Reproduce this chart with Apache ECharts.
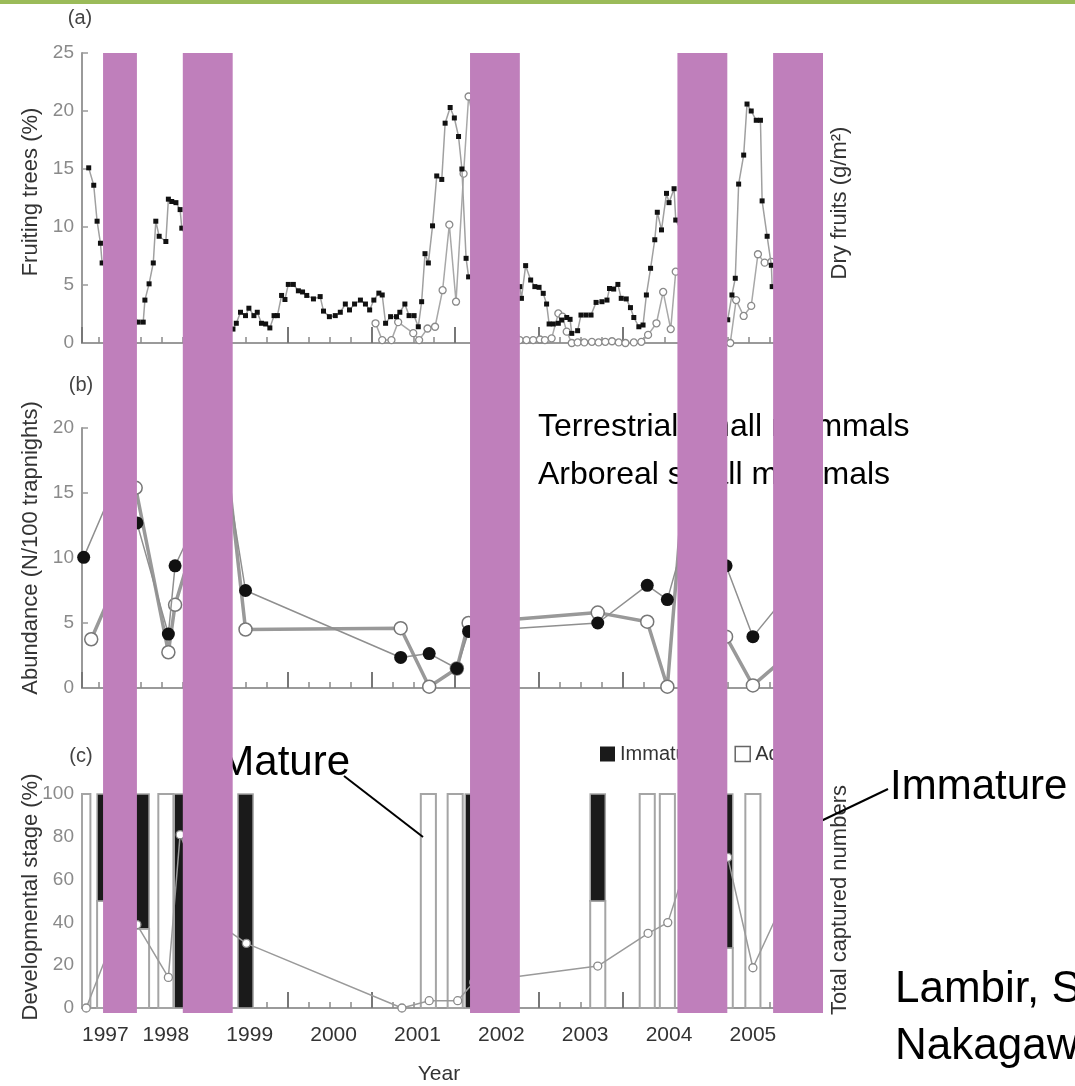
<!DOCTYPE html>
<html>
<head>
<meta charset="utf-8">
<script src="https://cdn.jsdelivr.net/npm/echarts@6/dist/echarts.min.js"></script>
<style>
html,body{margin:0;padding:0;background:#fff;}
#chart{width:1075px;height:1086px;}
</style>
</head>
<body>
<div id="chart"></div>
<script>
// ---------- DATA ----------
const yearLabels = ['1997','1998','1999','2000','2001','2002','2003','2004','2005'];

// (a) Fruiting trees (%) – filled squares
const fruitYears = [1997.08,1997.14,1997.18,1997.22,1997.24,1997.67,1997.73,1997.75,1997.80,1997.85,1997.88,1997.92,1998.00,1998.03,1998.07,1998.12,1998.17,1998.19,
  1998.80,1998.84,1998.89,1998.95,1998.99,1999.05,1999.09,1999.14,1999.19,1999.24,1999.29,1999.33,1999.38,1999.42,1999.46,1999.52,1999.58,1999.63,1999.68,1999.76,1999.84,1999.88,1999.95,
  2000.02,2000.08,2000.14,2000.19,2000.25,2000.32,2000.38,2000.43,2000.48,2000.54,2000.58,2000.62,2000.68,2000.75,2000.79,2000.85,2000.90,2000.96,
  2001.01,2001.05,2001.09,2001.13,2001.18,2001.23,2001.29,2001.33,2001.39,2001.44,2001.49,2001.53,2001.58,2001.61,
  2002.22,2002.24,2002.29,2002.35,2002.40,2002.45,2002.50,2002.54,2002.57,2002.62,2002.68,2002.72,2002.78,2002.82,2002.84,2002.91,2002.95,
  2003.01,2003.07,2003.13,2003.20,2003.26,2003.29,2003.34,2003.39,2003.43,2003.49,2003.54,2003.58,2003.64,2003.69,2003.73,2003.78,2003.83,2003.86,2003.91,2003.97,
  2004.00,2004.06,2004.08,2004.70,2004.75,2004.79,2004.83,2004.89,2004.93,2004.98,2005.04,2005.09,2005.11,2005.17,2005.22,2005.23];
const fruitPct = [15.1,13.6,10.5,8.6,6.9,1.8,1.8,3.7,5.1,6.9,10.5,9.2,8.75,12.4,12.2,12.1,11.5,9.9,
  1.2,1.7,2.65,2.36,3.0,2.36,2.65,1.7,1.64,1.3,2.36,2.36,4.1,3.75,5.05,5.05,4.5,4.4,4.1,3.8,4.0,2.75,2.27,
  2.36,2.65,3.36,2.85,3.36,3.7,3.36,2.85,3.7,4.3,4.14,1.7,2.27,2.27,2.65,3.36,2.36,2.36,
  1.4,3.56,7.7,6.9,10.1,14.4,14.1,18.95,20.3,19.4,17.8,15.0,7.3,5.7,
  4.86,3.85,6.67,5.43,4.86,4.8,4.28,3.36,1.64,1.64,1.7,1.98,2.2,2.04,0.83,1.06,2.41,
  2.41,2.41,3.5,3.56,3.7,4.7,4.65,5.05,3.85,3.8,3.05,2.2,1.4,1.55,4.14,6.44,8.9,11.27,9.75,12.9,
  12.1,13.3,10.6,2.0,4.14,5.58,13.7,16.2,20.6,20.0,19.2,19.2,12.25,9.2,6.7,4.86];

// (a) Dry fruits – open circles (right axis, same visual scale)
const dryYears = [2000.50,2000.58,2000.69,2000.77,2000.95,2001.02,2001.12,2001.21,2001.30,2001.38,2001.46,2001.55,2001.61,
  2002.22,2002.30,2002.38,2002.46,2002.52,2002.60,2002.68,2002.73,2002.78,2002.84,2002.91,2002.99,2003.08,2003.16,2003.24,2003.32,2003.40,2003.48,2003.58,2003.67,2003.75,2003.85,2003.93,
  2004.02,2004.08,2004.73,2004.80,2004.89,2004.98,2005.06,2005.14,2005.22];
const dryFruits = [1.7,0.25,0.25,1.8,0.85,0.25,1.25,1.4,4.55,10.2,3.56,14.6,21.25,
  0.25,0.25,0.25,0.3,0.25,0.4,2.55,2.27,0.98,0.0,0.05,0.05,0.1,0.05,0.1,0.15,0.05,0.0,0.05,0.1,0.7,1.7,4.4,
  1.2,6.15,0.0,3.7,2.33,3.2,7.65,6.93,7.0];

// (b) Abundance (N/100 trapnights)
const terrYears = [1997.02,1997.35,1997.655,1998.03,1998.11,1998.70,1998.95,2000.80,2001.14,2001.47,2001.61,2003.15,2003.74,2003.98,2004.36,2004.68,2005.00,2005.45];
const terrAbund = [10.05,15.0,12.7,4.15,9.4,17.5,7.5,2.35,2.65,1.5,4.35,5.0,7.9,6.8,15.5,9.4,3.95,7.5];
const arbYears  = [1997.11,1997.35,1997.64,1998.03,1998.11,1998.70,1998.95,2000.80,2001.14,2001.47,2001.61,2003.15,2003.74,2003.98,2004.20,2004.68,2005.00,2005.45];
const arbAbund  = [3.75,7.3,15.4,2.75,6.4,19.0,4.5,4.6,0.1,1.5,5.0,5.8,5.1,0.1,17.5,3.95,0.2,2.7];

// (c) Developmental stage (%) and total captured numbers
const devYears    = [1997.01,1997.27,1997.71,1998.00,1998.19,1998.95,2001.13,2001.45,2001.66,2003.15,2003.74,2003.98,2004.67,2005.00];
const immaturePct = [0,50,63,0,100,100,0,0,100,50,0,0,72,0];
const adultPct    = [100,50,37,100,0,0,100,100,0,50,100,100,28,100];
const totYears    = [1997.05,1997.33,1997.655,1998.03,1998.17,1998.60,1998.96,2000.815,2001.14,2001.48,2001.67,2003.15,2003.75,2003.985,2004.30,2004.70,2005.00,2005.45,2005.69];
const totCaptured = [0,28,39,14.3,81,40,30.2,0,3.4,3.4,12,19.6,34.9,39.9,78,70.4,18.8,57,0];

// highlighted periods (overlay bands, in years)
const purpleSpans = [[1997.251,1997.643],[1998.202,1998.785],[2001.627,2002.209],[2004.100,2004.683],[2005.241,2005.824]];

// ---------- CHART ----------
const FONT = 'Liberation Sans, Arial, Helvetica, sans-serif';
const pairs = (xs, ys) => xs.map((x, i) => [x, ys[i]]);
const XMIN = 1997, XMAX = 2005.824;

function mainX(g, labels) {
  return {
    type: 'value', gridIndex: g, position: 'bottom', min: XMIN, max: XMAX, interval: 1,
    axisLine: {show: true, onZero: false, lineStyle: {color: '#9a9a9a', width: 2}},
    axisTick: {show: false}, splitLine: {show: false},
    axisLabel: labels ? {
      show: true, color: '#333', fontSize: 21, fontFamily: FONT, margin: 17,
      alignMinLabel: 'left',
      formatter: function (v) {
        if (Math.abs(v - Math.round(v)) > 1e-6) return '';
        return yearLabels[Math.round(v) - 1997] || '';
      }
    } : {show: false}
  };
}
function quarterX(g) {
  return {
    type: 'value', gridIndex: g, position: 'bottom', min: XMIN + 0.05, max: XMAX + 0.05, minInterval: 0.25, maxInterval: 0.25,
    axisLine: {show: false, onZero: false}, axisLabel: {show: false}, splitLine: {show: false},
    axisTick: {show: true, inside: true, length: 6, lineStyle: {color: '#8a8a8a', width: 1.5}}
  };
}
function majorX(g) {
  return {
    type: 'value', gridIndex: g, position: 'bottom', min: XMIN - 0.45, max: XMAX - 0.45, minInterval: 1, maxInterval: 1,
    axisLine: {show: false, onZero: false}, axisLabel: {show: false}, splitLine: {show: false},
    axisTick: {show: true, inside: true, length: 16, lineStyle: {color: '#777', width: 2}}
  };
}
function leftY(g, max, interval) {
  return {
    type: 'value', gridIndex: g, min: 0, max: max, interval: interval, position: 'left',
    axisLine: {show: true, onZero: false, lineStyle: {color: '#9a9a9a', width: 2}},
    axisTick: {show: true, inside: true, length: 6, lineStyle: {color: '#9a9a9a', width: 1.5}},
    axisLabel: {color: '#8a8a8a', fontSize: 19, fontFamily: FONT, margin: 8},
    splitLine: {show: false}
  };
}
function rightY(g, max) {
  return {
    type: 'value', gridIndex: g, min: 0, max: max, position: 'right',
    axisLine: {show: false, onZero: false}, axisTick: {show: false}, axisLabel: {show: false}, splitLine: {show: false}
  };
}

// stacked developmental-stage columns drawn through the axes, clipped to the grid
function stageRenderer(fill, stroke, lw) {
  return function (params, api) {
    const t = api.value(0), lo = api.value(1), hi = api.value(2);
    if (!(hi > lo)) return null;
    const p0 = api.coord([t, lo]);
    const p1 = api.coord([t, hi]);
    const w = api.size([0.18, 0])[0];
    const cs = params.coordSys;
    const r = echarts.graphic.clipRectByRect(
      {x: p0[0] - w / 2, y: p1[1], width: w, height: p0[1] - p1[1]},
      {x: cs.x, y: cs.y, width: cs.width, height: cs.height});
    if (!r) return null;
    return {type: 'rect', shape: r, style: {fill: fill, stroke: stroke, lineWidth: lw}};
  };
}
const adultData = devYears.map((t, i) => [t, 0, adultPct[i]]);
const immatureData = devYears.map((t, i) => [t, adultPct[i], adultPct[i] + immaturePct[i]]);

const chart = echarts.init(document.getElementById('chart'), null, {renderer: 'canvas'});
const option = {
  animation: false,
  backgroundColor: '#ffffff',
  grid: [
    {left: 82, top: 53, width: 740, height: 290},
    {left: 82, top: 428, width: 740, height: 260},
    {left: 82, top: 794, width: 740, height: 214}
  ],
  xAxis: [mainX(0, false), quarterX(0), majorX(0),
          mainX(1, false), quarterX(1), majorX(1),
          mainX(2, true), quarterX(2), majorX(2)],
  yAxis: [leftY(0, 25, 5), rightY(0, 25), leftY(1, 20, 5), leftY(2, 100, 20), rightY(2, 100)],
  legend: {
    data: [
      {name: 'Immature', itemStyle: {color: '#1a1a1a', borderWidth: 0}},
      {name: 'Adult', itemStyle: {color: '#ffffff', borderColor: '#666', borderWidth: 1.5}}
    ],
    left: 600, top: 744, padding: 0,
    itemWidth: 15, itemHeight: 15, itemGap: 30, icon: 'rect',
    textStyle: {fontSize: 20, color: '#333', fontFamily: FONT}
  },
  series: [
    {name: 'Fruiting trees', type: 'line', xAxisIndex: 0, yAxisIndex: 0,
     data: pairs(fruitYears, fruitPct), symbol: 'rect', symbolSize: 5,
     itemStyle: {color: '#111'}, lineStyle: {color: '#a0a0a0', width: 1.5}, z: 4},
    {name: 'Dry fruits', type: 'line', xAxisIndex: 0, yAxisIndex: 1,
     data: pairs(dryYears, dryFruits), symbol: 'circle', symbolSize: 7,
     itemStyle: {color: '#fff', borderColor: '#8a8a8a', borderWidth: 1.3},
     lineStyle: {color: '#a8a8a8', width: 1.5}, z: 3},
    {name: 'Terrestrial small mammals', type: 'line', xAxisIndex: 3, yAxisIndex: 2,
     data: pairs(terrYears, terrAbund), symbol: 'circle', symbolSize: 13,
     itemStyle: {color: '#111'}, lineStyle: {color: '#8f8f8f', width: 1.5}, z: 4},
    {name: 'Arboreal small mammals', type: 'line', xAxisIndex: 3, yAxisIndex: 2,
     data: pairs(arbYears, arbAbund), symbol: 'circle', symbolSize: 13,
     itemStyle: {color: '#fff', borderColor: '#777', borderWidth: 1.5},
     lineStyle: {color: '#999', width: 3.5}, z: 3},
    {name: 'Adult', type: 'custom', xAxisIndex: 6, yAxisIndex: 3,
     data: adultData, encode: {x: 0, y: [1, 2]},
     itemStyle: {color: '#ffffff', borderColor: '#a5a5a5', borderWidth: 2},
     renderItem: stageRenderer('#ffffff', '#a5a5a5', 2), z: 2},
    {name: 'Immature', type: 'custom', xAxisIndex: 6, yAxisIndex: 3,
     data: immatureData, encode: {x: 0, y: [1, 2]},
     itemStyle: {color: '#1a1a1a'},
     renderItem: stageRenderer('#1a1a1a', '#a5a5a5', 1.5), z: 2},
    {name: 'Total captured numbers', type: 'line', xAxisIndex: 6, yAxisIndex: 4,
     data: pairs(totYears, totCaptured), symbol: 'circle', symbolSize: 8,
     itemStyle: {color: '#fff', borderColor: '#8a8a8a', borderWidth: 1.3},
     lineStyle: {color: '#9a9a9a', width: 1.5}, z: 5}
  ]
};
chart.setOption(option);

// ---------- overlay graphics ----------
function txt(text, x, y, size, color, align, rot) {
  return {type: 'text', x: x, y: y, rotation: rot || 0, z: 50,
          style: {text: text, fill: color, fontSize: size, fontFamily: FONT,
                  align: align || 'center', verticalAlign: 'middle'}};
}
const R = Math.PI / 2;
const graphics = [
  {type: 'rect', shape: {x: 0, y: 0, width: 1075, height: 4}, style: {fill: '#9bbb59'}, z: 60},
  txt('(a)', 80, 18, 20, '#444'),
  txt('(b)', 81, 385, 20, '#444'),
  txt('(c)', 81, 756, 20, '#444'),
  txt('Fruiting trees (%)', 31, 192, 22, '#333', 'center', R),
  txt('Abundance (N/100 trapnights)', 31, 548, 22, '#333', 'center', R),
  txt('Developmental stage (%)', 31, 897, 22, '#333', 'center', R),
  txt('Dry fruits (g/m²)', 840, 203, 22, '#333', 'center', R),
  txt('Total captured numbers', 840, 900, 22, '#333', 'center', R),
  txt('Year', 439, 1074, 21, '#333'),
  txt('Terrestrial small mammals', 538, 427, 32, '#000', 'left'),
  txt('Arboreal small mammals', 538, 475, 32, '#000', 'left'),
  txt('Mature', 350, 763, 42, '#000', 'right'),
  txt('Immature', 890, 787, 42, '#000', 'left'),
  txt('Lambir, Sarawak', 895, 990, 44, '#000', 'left'),
  txt('Nakagawa et al.', 895, 1047, 44, '#000', 'left'),
  {type: 'line', z: 50, shape: {x1: 344, y1: 776, x2: 423, y2: 837}, style: {stroke: '#000', lineWidth: 2}},
  {type: 'line', z: 50, shape: {x1: 800, y1: 831, x2: 888, y2: 789}, style: {stroke: '#000', lineWidth: 2}}
];
purpleSpans.forEach(function (s) {
  const x0 = chart.convertToPixel({xAxisIndex: 0}, s[0]);
  const x1 = chart.convertToPixel({xAxisIndex: 0}, s[1]);
  graphics.push({type: 'rect', z: 100, shape: {x: x0, y: 53, width: x1 - x0 + 1, height: 960},
                 style: {fill: '#bf7fbb'}});
});
chart.setOption({graphic: graphics});
</script>
</body>
</html>
